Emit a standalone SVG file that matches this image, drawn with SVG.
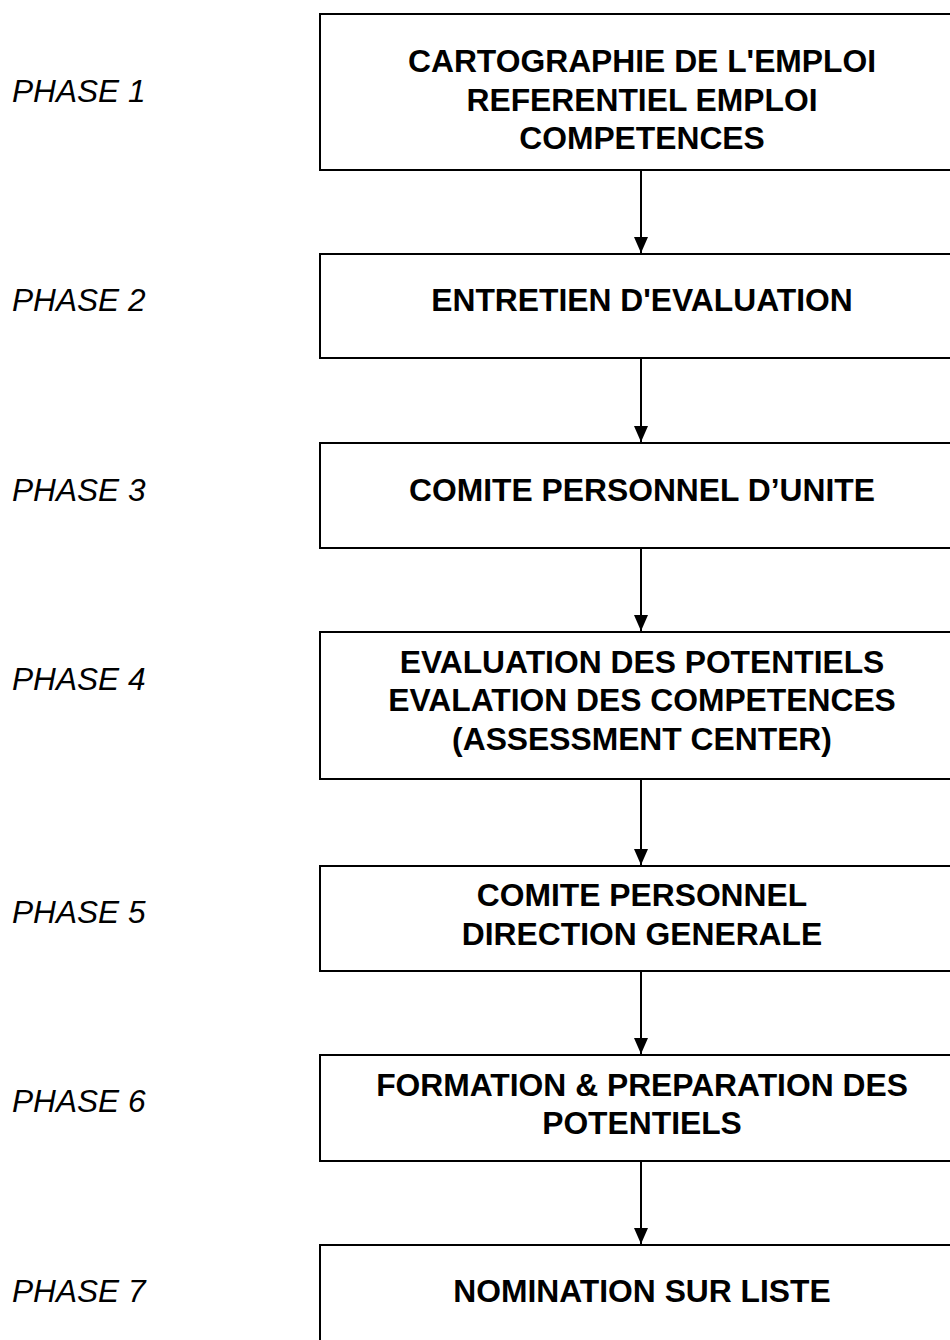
<svg xmlns="http://www.w3.org/2000/svg" width="950" height="1340" viewBox="0 0 950 1340">
<style>
.box{fill:#fff;stroke:#000;stroke-width:2}
.t{font-family:"Liberation Sans",Arial,sans-serif;font-weight:bold;font-size:31.8px;text-anchor:middle;fill:#000}
.p{font-family:"Liberation Sans",Arial,sans-serif;font-style:italic;font-size:31.6px;fill:#000}
.c{stroke:#000;stroke-width:2;fill:none}
</style>
<defs>
<marker id="ah" viewBox="0 0 16 14" refX="16" refY="7" markerWidth="16" markerHeight="14" markerUnits="userSpaceOnUse" orient="auto">
<path d="M0,0 L16,7 L0,14 Z" fill="#000"/>
</marker>
</defs>
<rect width="950" height="1340" fill="#fff"/>
<g id="labels">
<text class="p" x="12" y="102">PHASE 1</text>
<text class="p" x="12" y="311">PHASE 2</text>
<text class="p" x="12" y="501">PHASE 3</text>
<text class="p" x="12" y="690">PHASE 4</text>
<text class="p" x="12" y="923">PHASE 5</text>
<text class="p" x="12" y="1112">PHASE 6</text>
<text class="p" x="12" y="1302">PHASE 7</text>
</g>
<g id="n1"><rect class="box" x="320" y="14" width="660" height="156"/>
<text class="t" x="642" y="72">CARTOGRAPHIE DE L'EMPLOI</text>
<text class="t" x="642" y="111">REFERENTIEL EMPLOI</text>
<text class="t" x="642" y="149">COMPETENCES</text></g>
<g id="n2"><rect class="box" x="320" y="254" width="660" height="104"/>
<text class="t" x="642" y="311">ENTRETIEN D'EVALUATION</text></g>
<g id="n3"><rect class="box" x="320" y="443" width="660" height="105"/>
<text class="t" x="642" y="501">COMITE PERSONNEL D’UNITE</text></g>
<g id="n4"><rect class="box" x="320" y="632" width="660" height="147"/>
<text class="t" x="642" y="673">EVALUATION DES POTENTIELS</text>
<text class="t" x="642" y="711">EVALATION DES COMPETENCES</text>
<text class="t" x="642" y="750">(ASSESSMENT CENTER)</text></g>
<g id="n5"><rect class="box" x="320" y="866" width="660" height="105"/>
<text class="t" x="642" y="906">COMITE PERSONNEL</text>
<text class="t" x="642" y="945">DIRECTION GENERALE</text></g>
<g id="n6"><rect class="box" x="320" y="1055" width="660" height="106"/>
<text class="t" x="642" y="1096">FORMATION &amp; PREPARATION DES</text>
<text class="t" x="642" y="1134">POTENTIELS</text></g>
<g id="n7"><rect class="box" x="320" y="1245" width="660" height="120"/>
<text class="t" x="642" y="1302">NOMINATION SUR LISTE</text></g>
<g id="connectors">
<line class="c" x1="641" y1="171" x2="641" y2="253" marker-end="url(#ah)"/>
<line class="c" x1="641" y1="359" x2="641" y2="442" marker-end="url(#ah)"/>
<line class="c" x1="641" y1="549" x2="641" y2="631" marker-end="url(#ah)"/>
<line class="c" x1="641" y1="780" x2="641" y2="865" marker-end="url(#ah)"/>
<line class="c" x1="641" y1="972" x2="641" y2="1054" marker-end="url(#ah)"/>
<line class="c" x1="641" y1="1162" x2="641" y2="1244" marker-end="url(#ah)"/>
</g>
</svg>
